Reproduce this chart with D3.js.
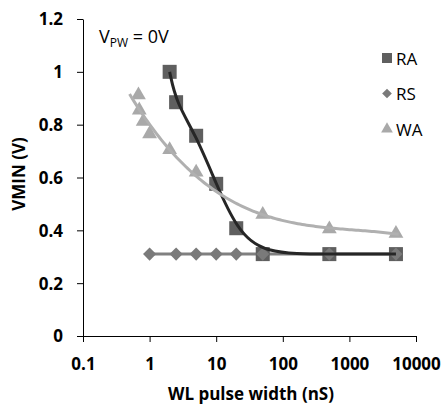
<!DOCTYPE html>
<html>
<head>
<meta charset="utf-8">
<script src="https://cdn.jsdelivr.net/npm/d3@7"></script>
<style>
  body { margin: 0; background: #fff; }
  svg { display: block; }
  text { font-family: "Open Sans", "Liberation Sans", sans-serif; }
</style>
</head>
<body>
<svg id="chart"></svg>
<script>
// pulse widths (nS) and VMIN (V)
const raX = [2, 2.5, 5, 10, 20, 50, 500, 5000];
const raY = [1.0, 0.885, 0.758, 0.576, 0.408, 0.31, 0.31, 0.31];
const rsX = [1, 2.5, 5, 10, 20, 50, 500, 5000];
const rsY = [0.31, 0.31, 0.31, 0.31, 0.31, 0.31, 0.31, 0.31];
const waX = [0.68, 0.7, 0.8, 1, 2, 5, 50, 500, 5000];
const waY = [0.912, 0.855, 0.812, 0.765, 0.705, 0.62, 0.46, 0.405, 0.388];
const xTicks = [0.1, 1, 10, 100, 1000, 10000];
const yTicks = [0, 0.2, 0.4, 0.6, 0.8, 1, 1.2];
const legendNames = ["RA", "RS", "WA"];

const W = 446, H = 405;
const margin = { top: 19, right: 30, bottom: 69, left: 83 };
const width = W - margin.left - margin.right;
const height = H - margin.top - margin.bottom;

const svg = d3.select("#chart").attr("width", W).attr("height", H);
const g = svg.append("g").attr("transform", "translate(" + margin.left + "," + margin.top + ")");

const x = d3.scaleLog().domain([0.1, 10000]).range([0, width]);
const y = d3.scaleLinear().domain([0, 1.2]).range([height, 0]);

// least squares polynomial in log10(x), like a spreadsheet trendline
function polyfit(xs, ys, deg) {
  const n = deg + 1;
  const A = [];
  for (let i = 0; i < n; i++) A.push(new Array(n + 1).fill(0));
  xs.forEach((xv, k) => {
    const u = Math.log10(xv);
    for (let i = 0; i < n; i++) {
      for (let j = 0; j < n; j++) A[i][j] += Math.pow(u, i + j);
      A[i][n] += ys[k] * Math.pow(u, i);
    }
  });
  for (let c = 0; c < n; c++) {
    let p = c;
    for (let r = c + 1; r < n; r++) if (Math.abs(A[r][c]) > Math.abs(A[p][c])) p = r;
    [A[c], A[p]] = [A[p], A[c]];
    for (let r = 0; r < n; r++) {
      if (r === c) continue;
      const f = A[r][c] / A[c][c];
      for (let j = c; j <= n; j++) A[r][j] -= f * A[c][j];
    }
  }
  const coef = A.map((row, i) => row[n] / row[i]);
  return xv => {
    const u = Math.log10(xv);
    return coef.reduce((s, c, i) => s + c * Math.pow(u, i), 0);
  };
}

function trend(xs, ys, deg, x0, x1) {
  const f = polyfit(xs, ys, deg);
  const l0 = Math.log10(x0), l1 = Math.log10(x1);
  return d3.range(0, 121).map(i => {
    const xv = Math.pow(10, l0 + (l1 - l0) * i / 120);
    return [xv, f(xv)];
  });
}

// axes
const xAxis = g.append("g")
  .attr("transform", "translate(0," + height + ")")
  .call(d3.axisBottom(x).tickValues(xTicks).tickFormat(d => String(d)).tickSize(6).tickSizeOuter(0));
const yAxis = g.append("g")
  .call(d3.axisLeft(y).tickValues(yTicks).tickFormat(d => String(d)).tickSize(6).tickSizeOuter(0));

[xAxis, yAxis].forEach(a => {
  a.attr("font-family", null).attr("font-size", null);
  a.select(".domain").attr("stroke", "#000").attr("stroke-width", 1);
  a.selectAll(".tick line").attr("stroke", "#000");
  a.selectAll(".tick text")
    .attr("fill", "#000")
    .attr("font-size", 17)
    .attr("font-weight", 700);
});
xAxis.selectAll(".tick text").attr("y", 34).attr("dy", 0);
yAxis.selectAll(".tick text").attr("x", -20).attr("dy", "0.35em");

// axis titles
svg.append("text")
  .attr("x", 251).attr("y", 400)
  .attr("text-anchor", "middle")
  .attr("font-size", 17).attr("font-weight", 700)
  .text("WL pulse width (nS)");
svg.append("text")
  .attr("transform", "translate(25,174) rotate(-90)")
  .attr("text-anchor", "middle")
  .attr("font-size", 17).attr("font-weight", 700)
  .text("VMIN (V)");

const line = d3.line().x(d => x(d[0])).y(d => y(d[1]));
const smooth = d3.line().x(d => x(d[0])).y(d => y(d[1])).curve(d3.curveBasis);

// RS series line
g.append("path")
  .datum(rsX.map((v, i) => [v, rsY[i]]))
  .attr("d", line)
  .attr("fill", "none").attr("stroke", "#808080").attr("stroke-width", 3);

// RA squares
g.selectAll(".ra")
  .data(raX.map((v, i) => [v, raY[i]]))
  .enter().append("rect")
  .attr("class", "ra")
  .attr("x", d => x(d[0]) - 7)
  .attr("y", d => y(d[1]) - 7)
  .attr("width", 14).attr("height", 14)
  .attr("fill", "#5f5f5f");

// RS diamonds
g.selectAll(".rs")
  .data(rsX.map((v, i) => [v, rsY[i]]))
  .enter().append("path")
  .attr("class", "rs")
  .attr("d", d3.symbol(d3.symbolDiamond2, 110))
  .attr("transform", d => "translate(" + x(d[0]) + "," + y(d[1]) + ")")
  .attr("fill", "#7a7a7a");

// WA triangles
g.selectAll(".wa")
  .data(waX.map((v, i) => [v, waY[i]]))
  .enter().append("path")
  .attr("class", "wa")
  .attr("d", d3.symbol(d3.symbolTriangle, 95))
  .attr("transform", d => "translate(" + x(d[0]) + "," + y(d[1]) + ")")
  .attr("fill", "#a9a9a9");

// trend curves
g.append("path")
  .datum(raX.map((v, i) => [v, raY[i]]))
  .attr("d", smooth)
  .attr("fill", "none").attr("stroke", "#262626").attr("stroke-width", 3);
g.append("path")
  .datum(trend(waX, waY, 3, 0.5, 5500))
  .attr("d", line)
  .attr("fill", "none").attr("stroke", "#b0b0b0").attr("stroke-width", 3);

// legend
const legend = svg.append("g");
const legendShapes = [
  d3.symbol(d3.symbolSquare, 100),
  d3.symbol(d3.symbolDiamond2, 60),
  d3.symbol(d3.symbolTriangle, 60)
];
const legendColors = ["#5f5f5f", "#7a7a7a", "#a9a9a9"];
legendNames.forEach((name, i) => {
  const ly = 58 + i * 35.5;
  legend.append("path")
    .attr("d", legendShapes[i])
    .attr("transform", "translate(387," + ly + ")")
    .attr("fill", legendColors[i]);
  legend.append("text")
    .attr("x", 396).attr("y", ly + 6.5)
    .attr("font-size", 17)
    .attr("fill", "#000")
    .text(name);
});

// annotation
const ann = svg.append("text")
  .attr("x", 99).attr("y", 43)
  .attr("font-size", 18)
  .attr("fill", "#000");
ann.append("tspan").text("V");
ann.append("tspan").attr("dy", 4).attr("font-size", 12).text("PW");
ann.append("tspan").attr("dy", -4).text(" = 0V");
</script>
</body>
</html>
